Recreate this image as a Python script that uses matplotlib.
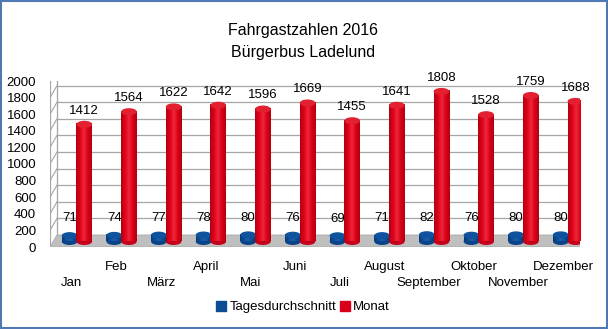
import matplotlib
matplotlib.use("Agg")
import matplotlib.pyplot as plt
import matplotlib.transforms as mtrans
from matplotlib.patches import Rectangle, Ellipse, Polygon
from matplotlib.colors import LinearSegmentedColormap
from matplotlib.lines import Line2D
import numpy as np

months = ["Jan", "Feb", "März", "April", "Mai", "Juni", "Juli", "August",
          "September", "Oktober", "November", "Dezember"]
tages = [71, 74, 77, 78, 80, 76, 69, 71, 82, 76, 80, 80]
monat = [1412, 1564, 1622, 1642, 1596, 1669, 1455, 1641, 1808, 1528, 1759, 1688]
yticks = list(range(0, 2001, 200))
series_names = ["Tagesdurchschnitt", "Monat"]

plt.rcParams['font.family'] = ['Liberation Sans', 'DejaVu Sans']

W, H, DPI = 608, 329, 100
fig = plt.figure(figsize=(W / DPI, H / DPI), dpi=DPI)
fig.patch.set_facecolor('white')

# front plane of the plot (pixels)
L, R, T, B = 50, 580, 81, 247
ax = fig.add_axes([L / W, (H - B) / H, (R - L) / W, (B - T) / H])
XL = (-0.49, 11.38)
YL = (0, 2000)
ax.set_xlim(*XL)
ax.set_ylim(*YL)
for s in ax.spines.values():
    s.set_visible(False)
ax.set_xticks([])
ax.set_yticks(yticks)
ax.set_yticklabels([str(v) for v in yticks], fontsize=9.5)
ax.tick_params(axis='y', length=0, pad=10)
ax.patch.set_alpha(0)

DX, DY = 7, 12  # depth offset in pixels
off = mtrans.ScaledTranslation(DX / DPI, DY / DPI, fig.dpi_scale_trans)
back = ax.transData + off
x0, x1 = XL
gcol = '#A6A6A6'

fig.canvas.draw()
def disp(x, y, t=ax.transData):
    return t.transform((x, y))

# floor
pts = [disp(x0, 0), disp(x1, 0), disp(x1, 0, back), disp(x0, 0, back)]
ax.add_patch(Polygon(pts, closed=True, transform=None, facecolor='#BFBFBF',
                     edgecolor='#A8A8A8', lw=0.6, zorder=1))

# back wall gridlines and frame
for v in yticks[1:]:
    ax.plot([x0, x1], [v, v], color=gcol, lw=0.9, transform=back, zorder=0.5)
    p1, p2 = disp(x0, v), disp(x0, v, back)
    ax.plot([p1[0], p2[0]], [p1[1], p2[1]], color=gcol, lw=0.8, transform=None, zorder=0.5)
ax.plot([x1, x1], [0, 2000], color=gcol, lw=0.9, transform=back, zorder=0.5)
ax.plot([x0, x0], [0, 2000], color=gcol, lw=0.9, transform=back, zorder=0.5)
ax.plot([x0, x0], [0, 2000], color=gcol, lw=0.9, zorder=0.5)

# cylinders (placed at mid depth)
ppu_y = (B - T) / 2000.0
ppu_x = (R - L) / (x1 - x0)
base = 5.5 / ppu_y
xsh = 3.5 / ppu_x
cap_h = 7.0 / ppu_y

red_cm = LinearSegmentedColormap.from_list('r', ['#B0000F', '#E0001B', '#EE2838', '#DA0019', '#B0000F'])
blue_cm = LinearSegmentedColormap.from_list('b', ['#073A75', '#0D4E98', '#1F60AA', '#0C4C94', '#073A75'])
grad = np.linspace(0, 1, 64).reshape(1, -1)

def cylinder(xc, w, v, cm, bottom, top, zo):
    ax.add_patch(Ellipse((xc, base), w, cap_h, facecolor=bottom, edgecolor='none', zorder=zo))
    ax.imshow(grad, cmap=cm, extent=(xc - w / 2, xc + w / 2, base, base + v),
              aspect='auto', zorder=zo + 0.01, interpolation='bilinear')
    ax.add_patch(Ellipse((xc, base + v), w, cap_h, facecolor=top, edgecolor='none', zorder=zo + 0.02))

bw = 0.35
bx_off, rx_off = -0.13 + xsh, 0.2 + xsh
for i in range(len(months)):
    cylinder(i + bx_off, bw, tages[i], blue_cm, '#0A4488', '#0F529E', 3 + i * 0.1)
    cylinder(i + rx_off, bw, monat[i], red_cm, '#C4001A', '#E3202F', 3.05 + i * 0.1)
    ax.annotate(str(monat[i]), (i + rx_off, base + monat[i]), xytext=(0, 5.5), textcoords='offset points',
                ha='center', va='bottom', fontsize=9.5, zorder=6)
    ax.annotate(str(tages[i]), (i + bx_off, base + tages[i]), xytext=(0, 8), textcoords='offset points',
                ha='center', va='bottom', fontsize=9.5, zorder=6)
ax.set_xlim(*XL)
ax.set_ylim(*YL)

# staggered month labels
for i, m in enumerate(months):
    ypix = 283 if i % 2 == 0 else 267
    xd = ax.transData.transform((i, 0))[0]
    fig.text(xd / W, (H - ypix) / H, m, ha='center', va='center', fontsize=9.5)

# title
fig.text(303 / W, (H - 31) / H, "Fahrgastzahlen 2016", ha='center', va='center', fontsize=11.5)
fig.text(303 / W, (H - 52) / H, "Bürgerbus Ladelund", ha='center', va='center', fontsize=11.5)

# legend
handles = [Line2D([], [], marker='s', ls='none', color='#0B4C93', markersize=7),
           Line2D([], [], marker='s', ls='none', color='#D9001B', markersize=7)]
fig.legend(handles, series_names, loc='center', bbox_to_anchor=(303 / W, (H - 307) / H),
           ncol=2, frameon=False, fontsize=9.5, handlelength=0.8, handletextpad=0.2,
           columnspacing=0.3)

# figure border
fig.add_artist(Rectangle((0.002, 0.003), 0.996, 0.994, transform=fig.transFigure,
                         fill=False, edgecolor='#4F78B4', lw=1.5))

fig.savefig("out.png", dpi=DPI)
